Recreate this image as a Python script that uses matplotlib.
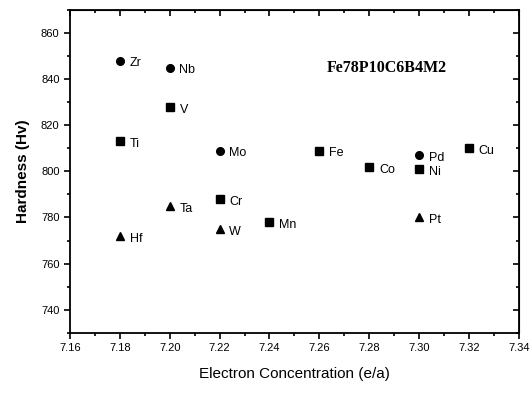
import matplotlib.pyplot as plt
from matplotlib.ticker import MultipleLocator, NullFormatter

plt.rcParams['font.family'] = ['Liberation Sans', 'DejaVu Sans']

elements = ['Zr', 'Nb', 'Mo', 'Pd',
            'Ti', 'V', 'Cr', 'Mn', 'Fe', 'Co', 'Ni', 'Cu',
            'Hf', 'Ta', 'W', 'Pt']
conc = [7.18, 7.20, 7.22, 7.30,
        7.18, 7.20, 7.22, 7.24, 7.26, 7.28, 7.30, 7.32,
        7.18, 7.20, 7.22, 7.30]
hardness = [848, 845, 809, 807,
            813, 828, 788, 778, 809, 802, 801, 810,
            772, 785, 775, 780]
markers = ['o'] * 4 + ['s'] * 8 + ['^'] * 4

xticks = [7.16, 7.18, 7.20, 7.22, 7.24, 7.26, 7.28, 7.30, 7.32, 7.34]
yticks = [740, 760, 780, 800, 820, 840, 860]

fig = plt.figure(figsize=(5.3, 3.93), dpi=100)
ax = fig.add_axes([0.132, 0.153, 0.847, 0.822])

for x, y, m, name in zip(conc, hardness, markers, elements):
    ax.plot(x, y, marker=m, color='black', markersize=5.5, linestyle='none')
    ax.annotate(name, (x, y), xytext=(7, -2), textcoords='offset points',
                fontsize=9, va='center', ha='left')

ax.text(7.287, 845, 'Fe78P10C6B4M2', family=['Liberation Serif', 'DejaVu Serif'],
        fontsize=11.5, fontweight='bold', ha='center', va='center')

ax.set_xlim(7.16, 7.34)
ax.set_ylim(730, 870)
ax.set_xticks(xticks)
ax.set_yticks(yticks)
ax.xaxis.set_minor_locator(MultipleLocator(0.01))
ax.yaxis.set_minor_locator(MultipleLocator(10))
ax.tick_params(which='both', direction='out', labelsize=8, width=1.2)
ax.tick_params(which='major', length=4)
ax.tick_params(which='minor', length=2.5)

# top and right: ticks pointing inward, no labels
sx = ax.secondary_xaxis('top')
sx.set_xticks(xticks)
sx.xaxis.set_minor_locator(MultipleLocator(0.01))
sx.xaxis.set_major_formatter(NullFormatter())
sy = ax.secondary_yaxis('right')
sy.set_yticks(yticks)
sy.yaxis.set_minor_locator(MultipleLocator(10))
sy.yaxis.set_major_formatter(NullFormatter())
for sec in (sx, sy):
    sec.tick_params(which='both', direction='in', width=1.2)
    sec.tick_params(which='major', length=4)
    sec.tick_params(which='minor', length=2.5)

for s in ax.spines.values():
    s.set_linewidth(1.3)

ax.set_xlabel('Electron Concentration (e/a)', fontsize=11, labelpad=10)
ax.set_ylabel('Hardness (Hv)', fontsize=11, fontweight='bold', labelpad=8)

fig.savefig('out.png', dpi=100)
